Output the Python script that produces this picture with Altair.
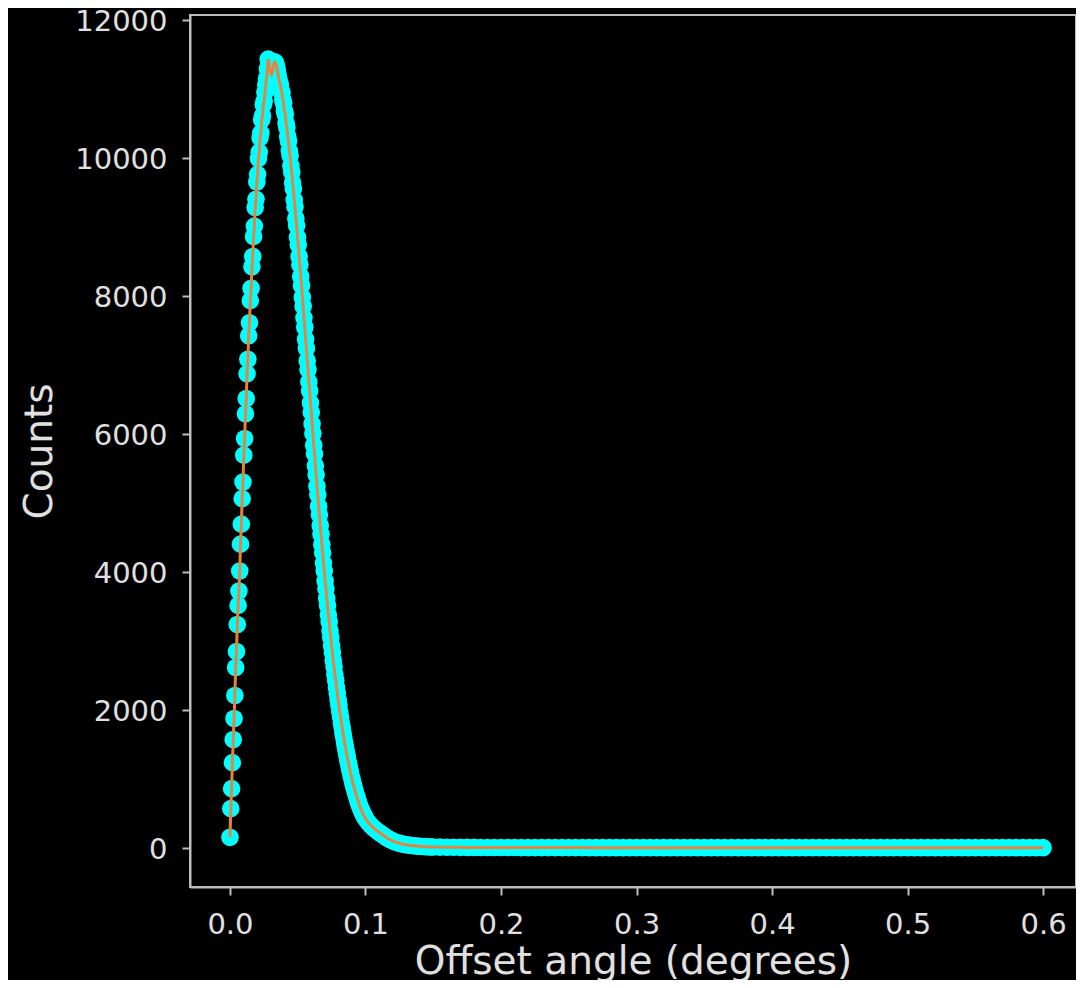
import altair as alt
import pandas as pd

# ---- data ----
# fine histogram bins (0.0006 deg wide) covering the peak
bin_width = 0.0006
x_fine = [round(bin_width * i, 4) for i in range(167)]
counts_fine = [
    150, 566, 856, 1233, 1567, 1872, 2205, 2612, 2844, 3236,
    3512, 3720, 4010, 4400, 4690, 5060, 5300, 5690, 5930, 6290,
    6510, 6870, 7080, 7420, 7610, 7930, 8110, 8420, 8570, 8860,
    9010, 9280, 9400, 9650, 9760, 9990, 10080, 10290, 10360, 10550,
    10610, 10770, 10820, 10950, 11060, 11150, 11290, 11430, 11370, 11290,
    11230, 11210, 11240, 11310, 11360, 11390, 11380, 11340, 11290, 11220,
    11150, 11090, 11060, 10970, 10940, 10840, 10790, 10680, 10630, 10500,
    10440, 10310, 10240, 10100, 10030, 9880, 9790, 9640, 9550, 9390,
    9290, 9120, 9020, 8850, 8740, 8570, 8450, 8280, 8150, 7980,
    7850, 7680, 7545, 7370, 7240, 7060, 6930, 6750, 6620, 6445,
    6310, 6140, 6005, 5835, 5705, 5535, 5405, 5240, 5115, 4950,
    4825, 4670, 4545, 4395, 4275, 4125, 4010, 3865, 3755, 3615,
    3510, 3375, 3272, 3145, 3046, 2925, 2828, 2715, 2622, 2512,
    2426, 2322, 2240, 2142, 2064, 1972, 1897, 1811, 1741, 1660,
    1594, 1519, 1457, 1387, 1329, 1264, 1209, 1150, 1098, 1043,
    996, 946, 901, 855, 814, 771, 734, 694, 660, 623,
    592, 560, 530, 505, 482, 460, 440,
]

# tail of the distribution (coarser sampling, points overlap into a band)
x_tail = [round(0.100 + 0.002 * i, 3) for i in range(26)] + \
         [round(0.155 + 0.005 * i, 3) for i in range(90)]
counts_tail = [
    420, 368, 322, 284, 252, 224, 196, 168, 141, 118,
    99, 83, 70, 59, 50, 43, 37, 32, 27, 23,
    20, 17, 15, 13, 11, 10,
    8, 7, 6, 5, 4, 4, 3, 3, 2, 2,
    2, 2, 1, 1, 1, 1, 1, 1, 1, 1,
    1, 1, 0, 0, 0, 0, 0, 0, 0, 0,
    0, 0, 0, 0, 0, 0, 0, 0, 0, 0,
    0, 0, 0, 0, 0, 0, 0, 0, 0, 0,
    0, 0, 0, 0, 0, 0, 0, 0, 0, 0,
    0, 0, 0, 0, 0, 0, 0, 0, 0, 0,
    0, 0, 0, 0, 0, 0, 0, 0, 0, 0,
    0, 0, 0, 0, 0, 0, 0, 0, 0, 0,
]

x_ticks = [0.0, 0.1, 0.2, 0.3, 0.4, 0.5, 0.6]
y_ticks = [0, 2000, 4000, 6000, 8000, 10000, 12000]

df = pd.DataFrame({"angle": x_fine + x_tail, "counts": counts_fine + counts_tail})

FONT = "DejaVu Sans"
TEXT = "#e0e0e0"
AXIS = "#bdbdbd"

x_enc = alt.X(
    "angle:Q",
    scale=alt.Scale(domain=[-0.0295, 0.6243], nice=False, zero=False),
    axis=alt.Axis(values=x_ticks, format=".1f", title="Offset angle (degrees)",
                  labelFlush=False, titlePadding=3),
)
y_enc = alt.Y(
    "counts:Q",
    scale=alt.Scale(domain=[-570, 12070], nice=False, zero=False),
    axis=alt.Axis(values=y_ticks, format="d", title="Counts", titlePadding=15,
                  labelOffset=2),
)

points = alt.Chart(df).mark_circle(size=310, color="#00ffff", opacity=1).encode(x=x_enc, y=y_enc)
line = alt.Chart(df).mark_line(color="#e4843f", strokeWidth=3).encode(x=x_enc, y=y_enc)

chart = (
    alt.layer(points, line)
    .properties(
        width=886,
        height=872,
        padding={"left": 182, "top": 7, "right": 0, "bottom": 93},
        autosize=alt.AutoSizeParams(type="none"),
        background="#000000",
    )
    .configure_axis(
        grid=False,
        labelFont=FONT,
        labelFontSize=29,
        labelColor=TEXT,
        labelPadding=15,
        titleFont=FONT,
        titleFontSize=39,
        titleFontWeight="normal",
        titleColor=TEXT,
        domainColor=AXIS,
        domainWidth=2,
        tickColor=AXIS,
        tickWidth=2,
        tickSize=8,
    )
    .configure_view(stroke=AXIS, strokeWidth=2)
)

chart.save("out.html", embed_options={"renderer": "svg", "actions": False})
